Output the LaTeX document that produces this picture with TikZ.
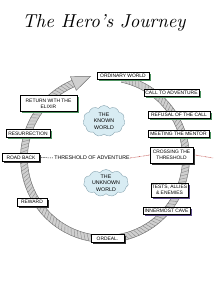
\documentclass[tikz,border=0pt]{standalone}
\usepackage{fontspec}
\usepackage{graphicx}
\newfontfamily\boxfont{Liberation Sans}
\usetikzlibrary{shadows,shapes.symbols}
\definecolor{shgreen}{HTML}{4F9462}
\definecolor{shdark}{HTML}{333333}
\definecolor{shpurple}{HTML}{5F4E8E}
\definecolor{ringfill}{HTML}{D0D0D0}
\definecolor{ringline}{HTML}{6E6E6E}
\definecolor{hatchc}{HTML}{8A8A8A}
\definecolor{cloudfill}{HTML}{D8ECF3}
\definecolor{cloudline}{HTML}{8AA6B2}
\definecolor{thred}{HTML}{C0504D}
\tikzset{
  stage/.style={draw=black, fill=white, line width=0.5mm, font=\boxfont\fontsize{14}{17}\selectfont,
    align=center, inner sep=0.8mm, minimum height=7mm},
  gsh/.style={drop shadow={shadow xshift=1.6mm, shadow yshift=-1.6mm, fill=shgreen, opacity=1}},
  dsh/.style={drop shadow={shadow xshift=1.6mm, shadow yshift=-1.6mm, fill=shdark, opacity=1}},
  psh/.style={drop shadow={shadow xshift=1.6mm, shadow yshift=-1.6mm, fill=shpurple, opacity=1}},
  worldcloud/.style={cloud, cloud puffs=11, cloud puff arc=110, draw=cloudline, fill=cloudfill,
    line width=0.4mm, inner sep=0pt},
  cloudtext/.style={font=\boxfont\fontsize{15}{19}\selectfont, align=center, inner sep=0pt},
  hatch/.style={hatchc, line width=0.4mm},
  ringedge/.style={ringline, line width=0.45mm},
  thrline/.style={thred, dotted, line width=0.6mm},
}
\begin{document}
\begin{tikzpicture}[x=1mm,y=1mm]
\path[use as bounding box, fill=white] (0,0) rectangle (213,300);

% title
\node (title) at (104,277) {\resizebox{163mm}{!}{\itshape The Hero’s Journey}};

% ring
\coordinate (C) at (105,142);
\draw[ringfill, line width=7mm] ([shift={(78:81)}]C) arc[start angle=78, end angle=-247, radius=81];
\foreach \a in {-246,-243.5,...,76}
  \draw[hatch] ([shift={(\a:77.5)}]C) -- ([shift={(\a+2.5:84.5)}]C);
\draw[ringedge] ([shift={(78:77.5)}]C) arc[start angle=78, end angle=-247, radius=77.5];
\draw[ringedge] ([shift={(78:84.5)}]C) arc[start angle=78, end angle=-247, radius=84.5];
\draw[ringedge, fill=ringfill] ([shift={(113:73.5)}]C) -- ([shift={(100:83)}]C) -- ([shift={(113:88.5)}]C) -- cycle;

% clouds
\node[worldcloud, minimum width=42mm, minimum height=31mm] (known) at (104,179) {};
\node[cloudtext] (knowntext) at (known.center) {THE\\KNOWN\\WORLD};
\node[worldcloud, minimum width=45mm, minimum height=27mm] (unknown) at (106,117) {};
\node[cloudtext] (unknowntext) at (unknown.center) {THE\\UNKNOWN\\WORLD};

% stages
\node[stage, gsh, minimum width=52mm] (ordinary) at (123,224.5) {ORDINARY WORLD};
\node[stage, gsh, minimum width=55mm] (call) at (171.5,207.5) {CALL TO ADVENTURE};
\node[stage, gsh, minimum width=62mm] (refusal) at (179,185.5) {REFUSAL OF THE CALL};
\node[stage, gsh, minimum width=61mm] (mentor) at (178.5,166.5) {MEETING THE MENTOR};
\node[stage, dsh, minimum width=43mm, minimum height=16mm] (crossing) at (171.5,145) {CROSSING THE\\THRESHOLD};
\node[stage, psh, minimum width=37mm, minimum height=14mm] (tests) at (169.5,110) {TESTS, ALLIES\\\& ENEMIES};
\node[stage, psh, minimum width=47mm] (cave) at (166.5,89.5) {INNERMOST CAVE};
\node[stage, dsh, minimum width=33mm, minimum height=8mm] (ordeal) at (107.5,61.5) {ORDEAL.};
\node[stage, dsh, minimum width=30mm, minimum height=8mm] (reward) at (32,98) {REWARD};
\node[stage, dsh, minimum width=37mm, minimum height=8mm] (roadback) at (21,142.5) {ROAD BACK};
\node[stage, gsh, minimum width=44mm, minimum height=8mm] (resurrection) at (28,166.5) {RESURRECTION};
\node[stage, gsh, minimum width=57mm, minimum height=16mm] (elixir) at (48.5,196.5) {RETURN WITH THE\\ELIXIR};

% threshold of adventure
\node[font=\boxfont\fontsize{15}{17}\selectfont, inner sep=0.5mm] (thr) at (92,142) {THRESHOLD OF ADVENTURE};
\coordinate (rightedge) at (213,142);
\draw[black, dashed, line width=0.5mm] ([xshift=1.6mm]roadback.east) -- (thr.west);
\draw[thrline] (thr.east) -- (crossing.west);
\draw[thrline] ([xshift=1.6mm]crossing.east) -- (rightedge);
\end{tikzpicture}
\end{document}
